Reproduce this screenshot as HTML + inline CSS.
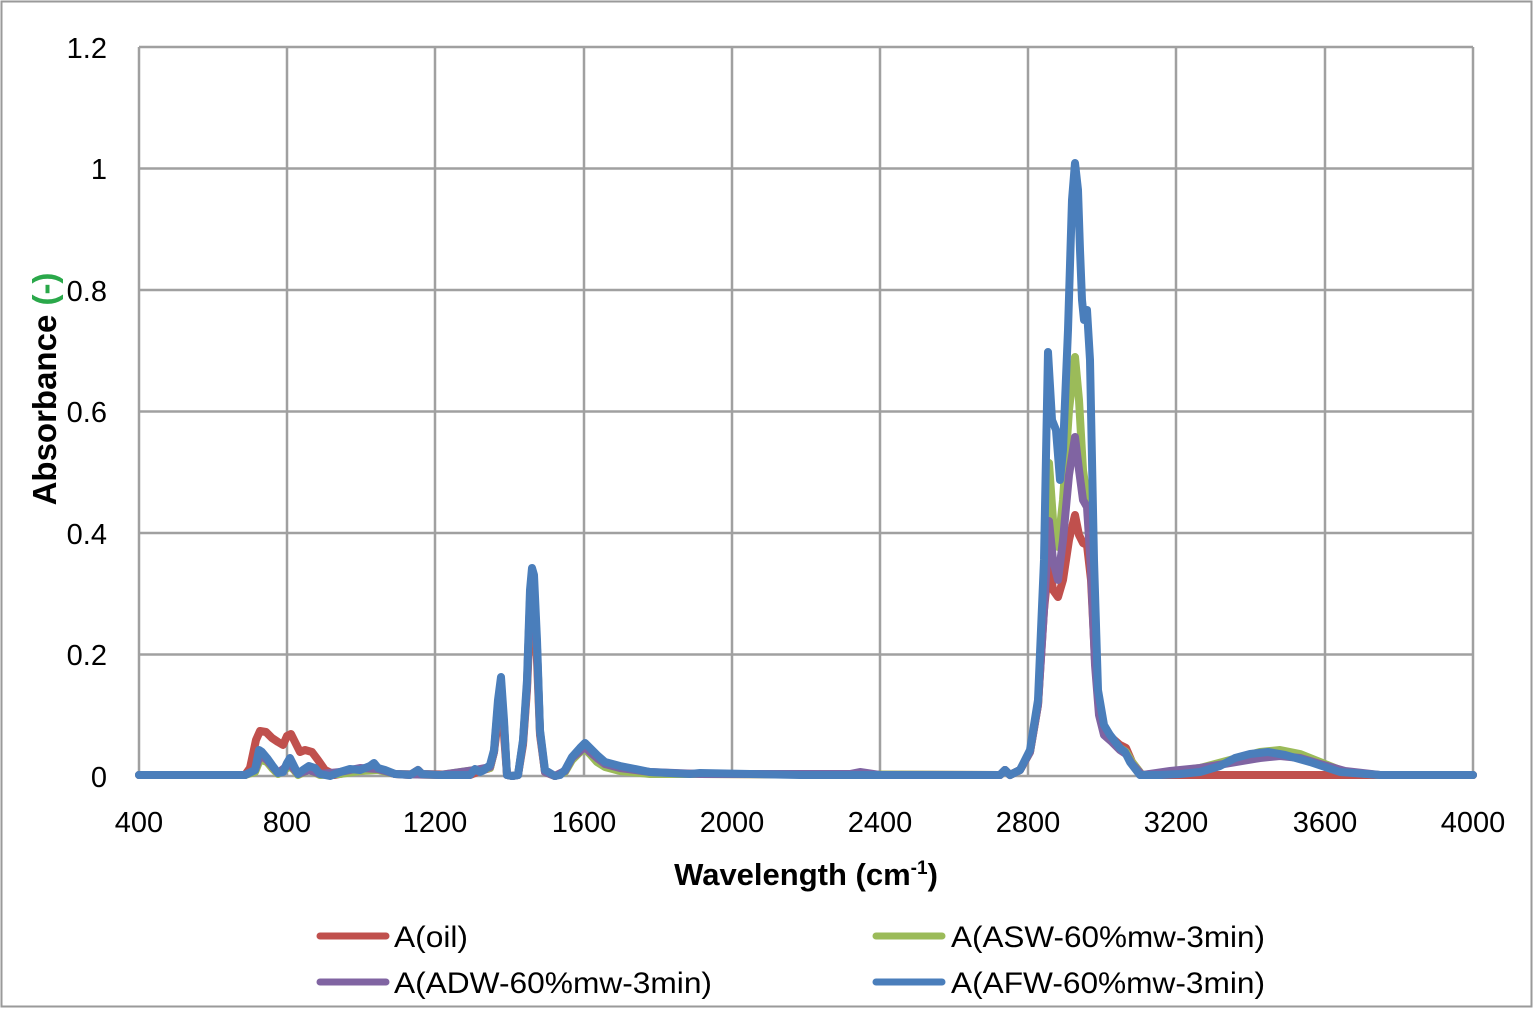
<!DOCTYPE html>
<html><head><meta charset="utf-8"><style>
html,body{margin:0;padding:0;background:#fff;}
svg{display:block;font-family:"Liberation Sans",sans-serif;}
</style></head><body>
<svg width="1534" height="1010" viewBox="0 0 1534 1010" xmlns="http://www.w3.org/2000/svg">
<rect x="1.5" y="1.5" width="1530" height="1005" fill="#fff" stroke="#9a9a9a" stroke-width="2"/>
<g stroke="#a0a0a0" stroke-width="2.5" fill="none">
<line x1="139" y1="47" x2="1473" y2="47"/>
<line x1="139" y1="168.5" x2="1473" y2="168.5"/>
<line x1="139" y1="290" x2="1473" y2="290"/>
<line x1="139" y1="411.5" x2="1473" y2="411.5"/>
<line x1="139" y1="533" x2="1473" y2="533"/>
<line x1="139" y1="654.5" x2="1473" y2="654.5"/>
<line x1="139" y1="776" x2="1473" y2="776"/>
<line x1="139" y1="47" x2="139" y2="776"/>
<line x1="287" y1="47" x2="287" y2="776"/>
<line x1="435" y1="47" x2="435" y2="776"/>
<line x1="584" y1="47" x2="584" y2="776"/>
<line x1="732" y1="47" x2="732" y2="776"/>
<line x1="880" y1="47" x2="880" y2="776"/>
<line x1="1028" y1="47" x2="1028" y2="776"/>
<line x1="1176" y1="47" x2="1176" y2="776"/>
<line x1="1325" y1="47" x2="1325" y2="776"/>
<line x1="1473" y1="47" x2="1473" y2="776"/>
</g>
<g font-size="29" fill="#000" text-anchor="end">
<text x="107" y="58">1.2</text>
<text x="107" y="179">1</text>
<text x="107" y="301">0.8</text>
<text x="107" y="422">0.6</text>
<text x="107" y="544">0.4</text>
<text x="107" y="665">0.2</text>
<text x="107" y="787">0</text>
</g>
<g font-size="29" fill="#000" text-anchor="middle">
<text x="139" y="832">400</text><text x="287" y="832">800</text><text x="435" y="832">1200</text>
<text x="584" y="832">1600</text><text x="732" y="832">2000</text><text x="880" y="832">2400</text>
<text x="1028" y="832">2800</text><text x="1176" y="832">3200</text><text x="1325" y="832">3600</text>
<text x="1473" y="832">4000</text>
</g>
<text x="806" y="885" font-size="31" font-weight="bold" text-anchor="middle">Wavelength (cm<tspan font-size="19" dy="-11">-1</tspan><tspan dy="11">)</tspan></text>
<text transform="translate(56,389) rotate(-90)" font-size="33" font-weight="bold" text-anchor="middle">Absorbance <tspan fill="#2aa84a">(-)</tspan></text>
<g fill="none" stroke-width="8" stroke-linejoin="round" stroke-linecap="round">
<polyline stroke="#c0504d" points="139,775 245,775 250,768 256,740 260,731 266,732 272,738 278,742 283,745 287,736 291,734 296,744 300,752 305,750 312,752 318,760 325,770 335,775 350,772 370,770 380,769 395,774 410,775 418,770 422,774 470,775 480,771 490,768 494,752 498,720 501,700 504,735 507,775 512,776 518,775 523,745 527,690 530,620 532,598 534,605 537,660 540,735 545,772 555,776 565,771 572,758 580,752 585,748 590,752 597,760 605,766 620,770 650,773 700,774 1000,775 1005,770 1010,775 1020,770 1030,752 1038,705 1044,610 1049,560 1053,590 1058,597 1063,580 1069,540 1075,515 1079,535 1083,543 1087,545 1091,580 1095,660 1099,710 1104,730 1112,738 1120,745 1126,748 1132,762 1142,775 1473,775"/>
<polyline stroke="#9bbb59" points="139,775 245,775 255,772 259,762 262,760 267,762 272,768 278,774 287,768 290,766 294,770 298,775 309,770 320,775 340,774 360,771 378,770 395,774 440,775 475,770 490,768 494,752 498,705 501,685 504,725 507,775 512,776 518,775 523,742 527,685 530,600 532,578 534,585 537,648 540,732 545,772 555,776 565,772 572,760 580,752 585,749 590,754 597,762 605,767 620,771 650,774 700,774 1000,775 1005,770 1010,775 1020,770 1030,752 1038,705 1044,600 1049,463 1053,520 1058,547 1063,500 1069,410 1075,357 1079,400 1083,470 1087,498 1091,560 1095,660 1099,710 1104,730 1112,740 1120,748 1126,752 1132,762 1142,775 1170,772 1200,768 1230,760 1260,752 1280,750 1300,754 1320,762 1345,772 1380,775 1473,775"/>
<polyline stroke="#8064a2" points="139,775 245,775 255,770 259,758 262,756 267,760 272,766 278,773 287,766 290,764 294,769 298,774 309,770 320,774 340,772 360,768 378,769 395,774 440,775 475,770 490,767 494,752 498,705 501,685 504,725 507,775 512,776 518,775 523,742 527,685 530,600 532,578 534,585 537,648 540,732 545,772 555,776 565,771 572,758 580,751 585,747 590,752 597,758 605,764 620,768 650,772 700,774 850,774 860,772 880,775 1000,775 1005,770 1010,775 1020,770 1030,752 1038,705 1044,610 1049,521 1053,560 1058,580 1063,540 1069,475 1075,437 1079,470 1083,500 1087,507 1091,570 1095,665 1099,715 1104,735 1112,742 1120,750 1126,754 1132,764 1142,775 1170,771 1200,768 1230,763 1260,758 1280,756 1300,758 1320,764 1345,771 1380,775 1473,775"/>
<polyline stroke="#4a7ebb" points="139,775 245,775 255,770 259,750 262,752 267,758 272,765 278,773 283,772 287,763 290,758 294,766 298,774 303,770 309,766 315,768 320,774 330,776 340,772 350,769 360,770 370,766 374,763 378,768 385,770 395,774 410,775 418,770 422,774 440,775 470,775 475,769 480,772 484,770 490,765 494,750 498,700 501,677 504,720 507,775 512,776 518,775 523,740 527,680 530,590 532,568 534,575 537,640 540,730 545,770 555,776 560,775 565,770 572,757 580,748 585,743 590,748 597,755 605,762 620,766 650,772 690,774 700,773 800,775 1000,775 1005,770 1010,775 1020,770 1030,750 1038,700 1044,560 1048,352 1052,420 1056,430 1060,480 1063,450 1068,330 1072,200 1075,163 1078,190 1080,250 1082,300 1084,320 1087,310 1090,360 1094,560 1098,690 1104,725 1110,735 1120,748 1125,752 1130,762 1140,775 1160,775 1180,774 1200,772 1220,766 1235,758 1250,754 1268,752 1285,755 1310,762 1340,772 1380,775 1473,775"/>
</g>
<g stroke-width="7" stroke-linecap="round">
<line x1="320" y1="936" x2="386" y2="936" stroke="#c0504d"/>
<line x1="876" y1="936" x2="942" y2="936" stroke="#9bbb59"/>
<line x1="320" y1="982" x2="386" y2="982" stroke="#8064a2"/>
<line x1="876" y1="982" x2="942" y2="982" stroke="#4a7ebb"/>
</g>
<g font-size="30" fill="#000">
<text x="394" y="947" textLength="74" lengthAdjust="spacingAndGlyphs">A(oil)</text>
<text x="951" y="947" textLength="314" lengthAdjust="spacingAndGlyphs">A(ASW-60%mw-3min)</text>
<text x="394" y="993" textLength="318" lengthAdjust="spacingAndGlyphs">A(ADW-60%mw-3min)</text>
<text x="951" y="993" textLength="314" lengthAdjust="spacingAndGlyphs">A(AFW-60%mw-3min)</text>
</g>
</svg>
</body></html>
